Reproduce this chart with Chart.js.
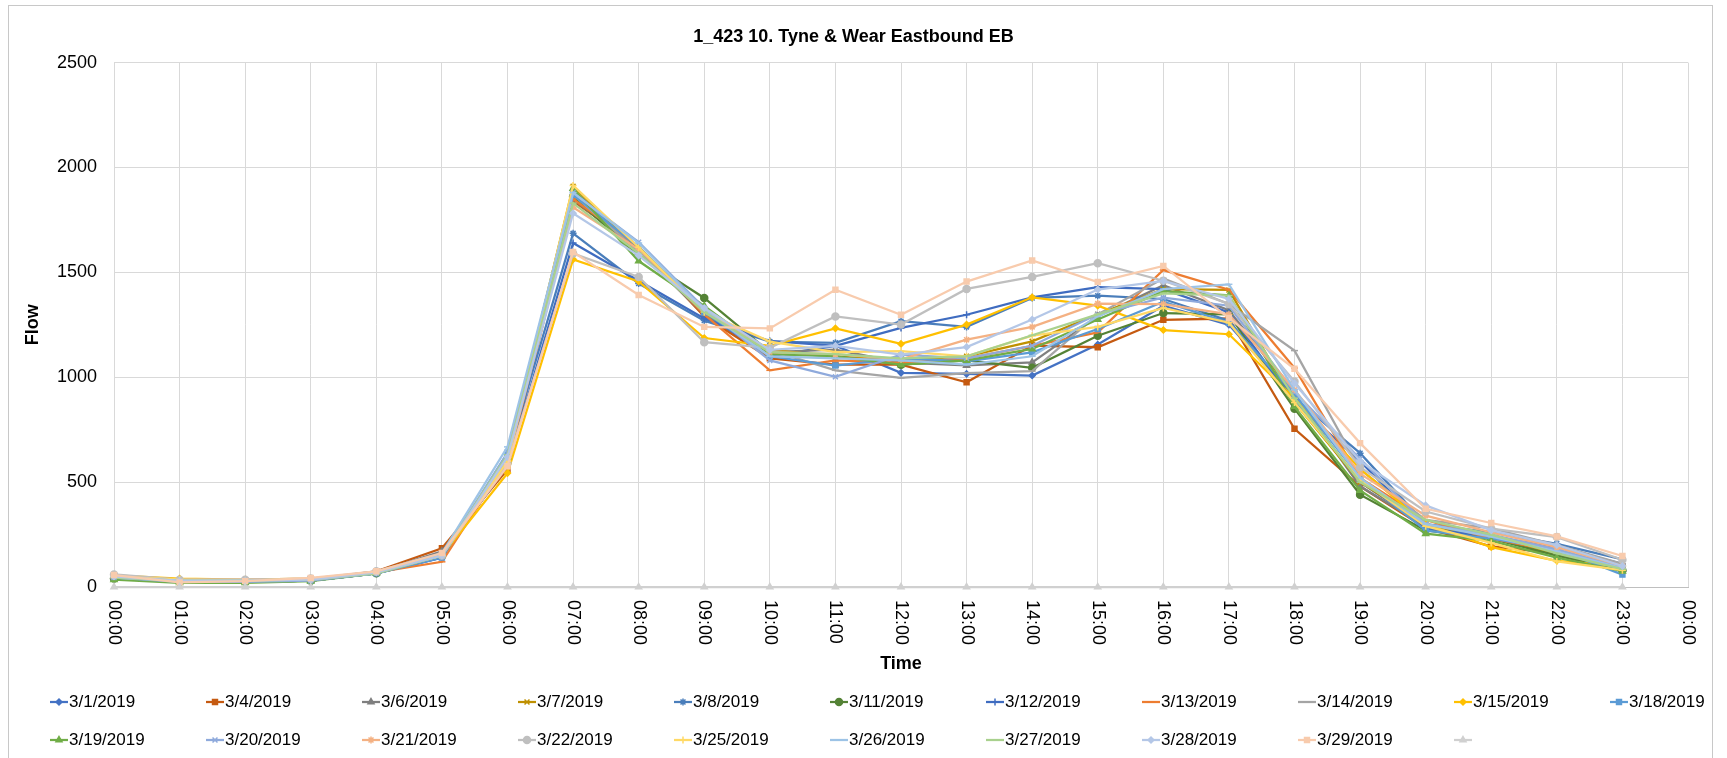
<!DOCTYPE html>
<html>
<head>
<meta charset="utf-8">
<style>
  html, body { margin: 0; padding: 0; background: #fff; }
  #wrap { width: 1727px; height: 758px; }
</style>
<script src="https://cdn.jsdelivr.net/npm/chart.js@4.4.1/dist/chart.umd.min.js"></script>
</head>
<body>
<div id="wrap"><canvas id="flowChart" width="1727" height="758"></canvas></div>
<script>
const chartTitle = '1_423 10. Tyne & Wear Eastbound EB';

const timeLabels = ['00:00', '01:00', '02:00', '03:00', '04:00', '05:00', '06:00', '07:00',
    '08:00', '09:00', '10:00', '11:00', '12:00', '13:00', '14:00', '15:00', '16:00',
    '17:00', '18:00', '19:00', '20:00', '21:00', '22:00', '23:00', '00:00'];

const flowTicks = [0, 500, 1000, 1500, 2000, 2500];

// hourly flow, 00:00 .. 23:00
const flow0301 = [45, 25, 25, 30, 65, 140, 600, 1890, 1620, 1300, 1100, 1150, 1021, 1016, 1008, 1156, 1341, 1250, 900, 500, 290, 230, 170, 80];
const flow0304 = [40, 30, 30, 35, 75, 185, 560, 1840, 1620, 1290, 1090, 1060, 1060, 976, 1151, 1143, 1274, 1280, 754, 480, 280, 194, 160, 80];
const flow0306 = [50, 30, 30, 35, 70, 170, 600, 1850, 1600, 1300, 1120, 1132, 1070, 1056, 1071, 1290, 1439, 1320, 920, 480, 290, 240, 170, 85];
const flow0307 = [45, 25, 25, 30, 70, 150, 610, 1910, 1610, 1310, 1130, 1100, 1080, 1100, 1171, 1300, 1420, 1416, 880, 500, 300, 230, 160, 90];
const flow0308 = [40, 25, 25, 30, 65, 140, 620, 1686, 1447, 1270, 1170, 1164, 1267, 1240, 1378, 1389, 1373, 1270, 900, 638, 300, 260, 206, 132];
const flow0311 = [40, 25, 25, 30, 65, 150, 600, 1860, 1580, 1378, 1120, 1100, 1060, 1080, 1045, 1198, 1306, 1300, 850, 440, 270, 230, 150, 80];
const flow0312 = [45, 25, 25, 30, 70, 150, 580, 1640, 1460, 1280, 1173, 1150, 1235, 1298, 1381, 1430, 1420, 1309, 880, 600, 280, 240, 190, 110];
const flow0313 = [40, 25, 25, 30, 70, 120, 600, 1850, 1620, 1300, 1033, 1080, 1068, 1090, 1150, 1214, 1511, 1417, 1044, 520, 320, 230, 170, 90];
const flow0314 = [50, 30, 30, 35, 75, 160, 620, 1870, 1600, 1320, 1130, 1033, 997, 1020, 1029, 1300, 1471, 1349, 1127, 560, 320, 280, 200, 110];
const flow0315 = [55, 40, 35, 40, 70, 150, 543, 1562, 1457, 1187, 1150, 1233, 1159, 1251, 1381, 1341, 1225, 1205, 900, 563, 300, 190, 125, 100];
const flow0318 = [45, 25, 25, 30, 65, 140, 640, 1870, 1620, 1310, 1100, 1056, 1090, 1076, 1119, 1230, 1360, 1260, 920, 520, 270, 230, 180, 59];
const flow0319 = [35, 20, 20, 28, 65, 150, 620, 1900, 1554, 1340, 1110, 1100, 1060, 1080, 1135, 1275, 1410, 1390, 860, 460, 254, 220, 140, 75];
const flow0320 = [45, 25, 25, 30, 65, 150, 640, 1880, 1644, 1330, 1080, 1002, 1108, 1090, 1150, 1300, 1380, 1341, 930, 611, 300, 250, 180, 95];
const flow0321 = [55, 35, 35, 40, 70, 150, 600, 1810, 1610, 1320, 1120, 1110, 1085, 1179, 1240, 1351, 1349, 1300, 940, 540, 340, 260, 190, 100];
const flow0322 = [60, 35, 35, 40, 75, 150, 590, 1590, 1478, 1167, 1140, 1290, 1251, 1421, 1478, 1544, 1460, 1349, 980, 571, 360, 278, 238, 130];
const flow0325 = [50, 35, 30, 40, 70, 150, 600, 1914, 1620, 1310, 1170, 1120, 1124, 1100, 1198, 1240, 1330, 1260, 880, 510, 290, 210, 122, 80];
const flow0326 = [45, 30, 30, 35, 65, 160, 668, 1880, 1640, 1320, 1100, 1090, 1080, 1060, 1100, 1290, 1420, 1443, 940, 520, 300, 240, 170, 90];
const flow0327 = [45, 30, 30, 35, 65, 150, 630, 1830, 1590, 1310, 1120, 1110, 1090, 1100, 1200, 1300, 1400, 1389, 900, 500, 320, 250, 160, 85];
const flow0328 = [50, 30, 30, 35, 70, 150, 620, 1782, 1580, 1330, 1130, 1150, 1108, 1144, 1275, 1418, 1459, 1373, 971, 600, 389, 270, 200, 100];
const flow0329 = [57, 22, 28, 43, 75, 162, 576, 1597, 1392, 1240, 1233, 1417, 1298, 1456, 1557, 1454, 1531, 1282, 1040, 686, 373, 305, 241, 148];
const flowBlank = [0, 0, 0, 0, 0, 0, 0, 0, 0, 0, 0, 0, 0, 0, 0, 0, 0, 0, 0, 0, 0, 0, 0, 0];

const seriesNames = ['3/1/2019', '3/4/2019', '3/6/2019', '3/7/2019', '3/8/2019', '3/11/2019',
    '3/12/2019', '3/13/2019', '3/14/2019', '3/15/2019', '3/18/2019', '3/19/2019', '3/20/2019',
    '3/21/2019', '3/22/2019', '3/25/2019', '3/26/2019', '3/27/2019', '3/28/2019', '3/29/2019', ''];
const seriesValues = [flow0301, flow0304, flow0306, flow0307, flow0308, flow0311, flow0312,
    flow0313, flow0314, flow0315, flow0318, flow0319, flow0320, flow0321, flow0322, flow0325,
    flow0326, flow0327, flow0328, flow0329, flowBlank];
const seriesColors = ['#4472C4', '#C55A11', '#7F7F7F', '#BF9000', '#4A7EBB', '#548235',
    '#3F6CC0', '#ED7D31', '#A5A5A5', '#FFC000', '#5B9BD5', '#70AD47', '#8FAADC',
    '#F4B183', '#BFBFBF', '#FFD966', '#9DC3E6', '#A9D18E', '#B4C7E7', '#F8CBAD', '#D0D0D0'];
const seriesMarkers = ['rectRot', 'rect', 'triangle', 'crossRot', 'star', 'circle', 'cross',
    'line', 'line', 'rectRot', 'rect', 'triangle', 'crossRot', 'star', 'circle', 'cross',
    'line', 'line', 'rectRot', 'rect', 'triangle'];

const FONT = '"Liberation Sans", Arial, sans-serif';
Chart.defaults.font.family = FONT;
Chart.defaults.color = '#000';

// excel markers are a bit smaller for diamonds
const markerSize = style => (style === 'rectRot' ? 3 : 3.5);

// frame, rotated hour labels and the two-row legend, drawn like the spreadsheet does
const excelLook = {
    id: 'excelLook',
    beforeDraw(chart) {
        const c = chart.ctx;
        c.save();
        c.fillStyle = '#fff';
        c.fillRect(0, 0, chart.width, chart.height);
        c.strokeStyle = '#C8C8C8';
        c.lineWidth = 1;
        c.strokeRect(8.5, 5.5, 1704, 800);
        c.restore();
    },
    afterDraw(chart) {
        const c = chart.ctx;
        const xs = chart.scales.x;
        c.save();
        c.font = '18px ' + FONT;
        c.fillStyle = '#000';
        c.textAlign = 'left';
        c.textBaseline = 'middle';
        timeLabels.forEach((t, i) => {
            c.save();
            c.translate(xs.getPixelForTick(i), chart.chartArea.bottom + 13);
            c.rotate(Math.PI / 2);
            c.fillText(t, 0, 0);
            c.restore();
        });

        c.font = '17px ' + FONT;
        seriesNames.forEach((name, i) => {
            const col = i % 11;
            const row = Math.floor(i / 11);
            const x0 = 50 + col * 156;
            const y = row ? 740 : 702;
            c.strokeStyle = seriesColors[i];
            c.fillStyle = seriesColors[i];
            c.lineWidth = 2.25;
            c.beginPath();
            c.moveTo(x0, y);
            c.lineTo(x0 + 18, y);
            c.stroke();
            c.lineWidth = 1.5;
            if (Chart.helpers && Chart.helpers.drawPoint) {
                Chart.helpers.drawPoint(c, { pointStyle: seriesMarkers[i], radius: markerSize(seriesMarkers[i]), borderWidth: 1.5, rotation: 0 }, x0 + 9, y);
            }
            c.fillStyle = '#000';
            c.fillText(name, x0 + 19, y);
        });
        c.restore();
    }
};

const datasets = seriesValues.map((vals, i) => ({
    label: seriesNames[i],
    data: vals,
    borderColor: seriesColors[i],
    backgroundColor: seriesColors[i],
    pointStyle: seriesMarkers[i],
    pointRadius: markerSize(seriesMarkers[i]),
    pointHoverRadius: markerSize(seriesMarkers[i]),
    pointBorderWidth: 1.5,
    borderWidth: 2.25,
    tension: 0,
    clip: false,
    order: -i
}));

new Chart(document.getElementById('flowChart'), {
    type: 'line',
    data: { labels: timeLabels, datasets: datasets },
    plugins: [excelLook],
    options: {
        responsive: false,
        animation: false,
        devicePixelRatio: 1,
        layout: { padding: { left: 8, right: 28, top: 5, bottom: 81 } },
        plugins: {
            legend: { display: false },
            tooltip: { enabled: false },
            title: {
                display: true,
                text: chartTitle,
                color: '#000',
                font: { size: 18, weight: 'bold' },
                padding: { top: 21, bottom: 15 }
            }
        },
        scales: {
            x: {
                type: 'category',
                offset: false,
                grid: { color: '#D9D9D9', drawTicks: false, offset: false },
                border: { color: '#BFBFBF', width: 1 },
                ticks: { color: 'rgba(0,0,0,0)', autoSkip: false, minRotation: 90, maxRotation: 90, font: { size: 18 } },
                title: { display: true, text: 'Time', color: '#000', font: { size: 18, weight: 'bold' }, padding: { top: 0, bottom: 2 } },
                afterFit(s) {
                    s.height = 90;
                    s.paddingLeft = 0;
                    s.paddingRight = 39;
                }
            },
            y: {
                min: 0,
                max: 2500,
                afterBuildTicks(s) {
                    s.ticks = flowTicks.map(v => ({ value: v }));
                },
                grid: {
                    drawTicks: false,
                    color: ctx => (ctx.tick && ctx.tick.value === 0 ? '#BFBFBF' : '#D9D9D9')
                },
                border: { color: '#D9D9D9', width: 1 },
                ticks: { padding: 17, color: '#000', font: { size: 18 }, callback: v => String(v) },
                title: { display: true, text: 'Flow', color: '#000', font: { size: 18, weight: 'bold' }, padding: { top: 14, bottom: 0 } },
                afterFit(s) {
                    s.width = 106;
                    s.paddingTop = 0;
                    s.paddingBottom = 0;
                }
            }
        }
    }
});
</script>
</body>
</html>
